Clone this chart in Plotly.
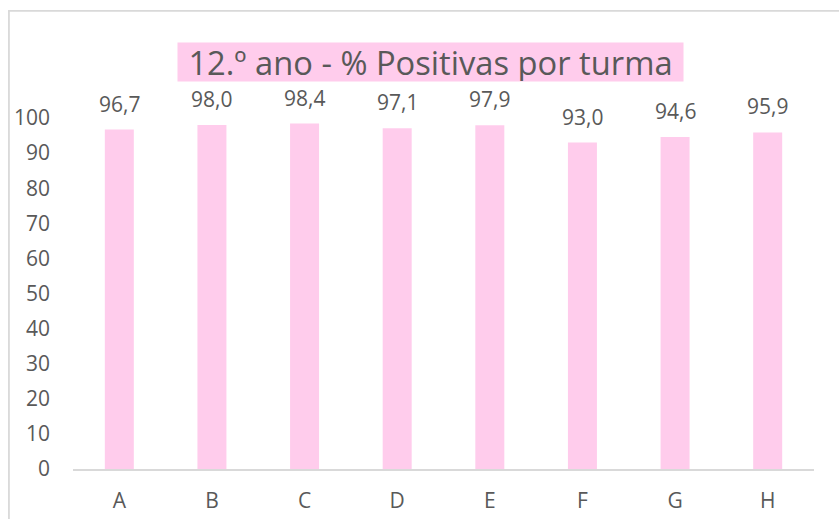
import plotly.graph_objects as go

categories = ["A", "B", "C", "D", "E", "F", "G", "H"]
values = [96.7, 98.0, 98.4, 97.1, 97.9, 93.0, 94.6, 95.9]
y_ticks = [0, 10, 20, 30, 40, 50, 60, 70, 80, 90, 100]
title_text = "12.º ano - % Positivas por turma"

W, H = 839, 519
ml, mr, mt, mb = 72.6, 25, 117.5, 49.5
pw, ph = W - ml - mr, H - mt - mb

def px_to_paper_x(x):
    return (x - ml) / pw

def px_to_paper_y(y):
    return (H - mb - y) / ph

font_family = "Open Sans, Noto Sans, Liberation Sans, sans-serif"
txt_color = "#595959"
pink = "#FFCCEC"

fig = go.Figure()
fig.add_trace(go.Bar(
    x=categories, y=values,
    marker=dict(color=pink, line=dict(width=0)),
    textposition="none",
    hoverinfo="x+y",
))

for c, v in zip(categories, values):
    fig.add_annotation(x=c, y=v, text=f"{v:.1f}".replace(".", ","),
                       showarrow=False, yanchor="middle", yshift=26,
                       font=dict(size=21, color=txt_color, family=font_family))

fig.add_annotation(xref="paper", yref="paper",
                   x=px_to_paper_x(430.5), y=px_to_paper_y(61),
                   xanchor="center", yanchor="middle",
                   width=505, height=38,
                   text=title_text, showarrow=False,
                   bgcolor=pink, borderpad=0,
                   font=dict(size=32.7, color=txt_color, family=font_family))

# chart border (right and bottom edges fall outside the picture)
fig.add_shape(type="rect", xref="paper", yref="paper",
              x0=px_to_paper_x(8.5), x1=px_to_paper_x(900),
              y0=px_to_paper_y(600), y1=px_to_paper_y(10),
              line=dict(color="#D9D9D9", width=1.8), layer="below")

fig.update_layout(
    width=W, height=H,
    margin=dict(l=ml, r=mr, t=mt, b=mb, autoexpand=False),
    paper_bgcolor="white", plot_bgcolor="white",
    separators=",.",
    bargap=0.687,
    showlegend=False,
    font=dict(family=font_family, color=txt_color, size=21),
    xaxis=dict(showgrid=False, showline=True, linecolor="#D9D9D9", linewidth=1.5,
               automargin=False, ticks="", tickfont=dict(size=21, color=txt_color),
               ticklabelstandoff=12),
    yaxis=dict(range=[0, 100], tickvals=y_ticks, showgrid=False, zeroline=False,
               automargin=False, showline=False, ticks="",
               tickfont=dict(size=21, color=txt_color), ticklabelstandoff=22),
)

fig.write_html(
    "out.html",
    config={"displayModeBar": False},
    post_script="document.body.style.margin='0';document.body.style.overflow='hidden';",
)
